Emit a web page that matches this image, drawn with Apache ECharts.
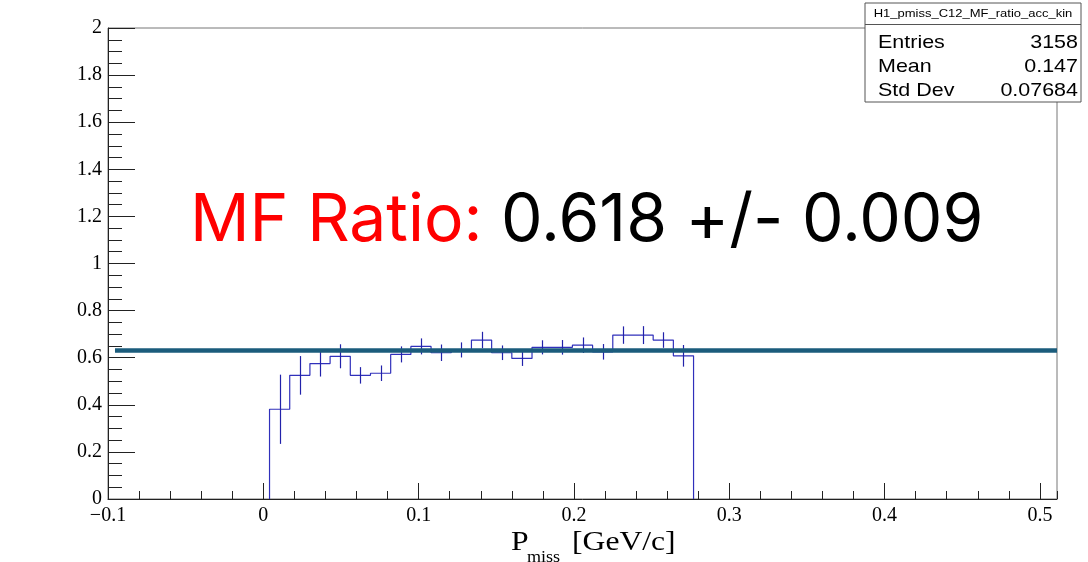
<!DOCTYPE html>
<html>
<head>
<meta charset="utf-8">
<script src="https://cdn.jsdelivr.net/npm/echarts@6/dist/echarts.min.js"></script>
<style>
html, body { margin: 0; padding: 0; background: #fff; }
#chart { width: 1088px; height: 562px; }
</style>
</head>
<body>
<div id="chart"></div>
<script>
// histogram: bins of 0.013 GeV/c, first filled bin starts at 0.004
const binLow = 0.004;
const binWidth = 0.013;
const ratioValues = [0.381, 0.525, 0.575, 0.606, 0.525, 0.534, 0.614, 0.648, 0.621, 0.633, 0.675,
  0.621, 0.597, 0.644, 0.644, 0.653, 0.625, 0.696, 0.696, 0.675, 0.608];
const ratioErrors = [0.147, 0.082, 0.055, 0.051, 0.035, 0.033, 0.034, 0.034, 0.035, 0.032, 0.035,
  0.031, 0.032, 0.030, 0.031, 0.033, 0.033, 0.037, 0.038, 0.033, 0.046];
// constant fit
const fitValue = 0.631;
const fitRange = [-0.0955, 0.511];
const xRange = [-0.1, 0.511];
const yRange = [0, 2];
const statNames = ["Entries", "Mean", "Std Dev"];
const statValues = ["3158", "0.147", "0.07684"];

const histPoints = [[binLow, 0]];
ratioValues.forEach((v, i) => histPoints.push([binLow + i * binWidth, v]));
const histEnd = binLow + ratioValues.length * binWidth;
histPoints.push([histEnd, ratioValues[ratioValues.length - 1]]);
histPoints.push([histEnd, 0]);

const errData = ratioValues.map((v, i) => [binLow + (i + 0.5) * binWidth, v - ratioErrors[i], v + ratioErrors[i]]);

const serif = "Liberation Serif";
const sans = "Liberation Sans";
const stretch = 1.13; // the picture is a bit wider than tall

let myChart = echarts.init(document.getElementById("chart"));

const statGraphics = [
  {
    type: "rect", shape: { x: 865, y: 3, width: 216, height: 99 },
    style: { fill: "#fff", stroke: "#555", lineWidth: 1 }, z: 10
  },
  {
    type: "line", shape: { x1: 865, y1: 24.5, x2: 1081, y2: 24.5 },
    style: { stroke: "#555", lineWidth: 1 }, z: 11
  },
  {
    type: "text", x: 973, y: 14, z: 11, scaleX: stretch,
    style: { text: "H1_pmiss_C12_MF_ratio_acc_kin", font: "11.5px " + sans, fill: "#000", align: "center", verticalAlign: "middle" }
  }
];
statNames.forEach((name, i) => {
  statGraphics.push({
    type: "text", x: 878, y: 43 + i * 24, z: 11, scaleX: stretch,
    style: { text: name, font: "19px " + sans, fill: "#000", verticalAlign: "middle" }
  });
  statGraphics.push({
    type: "text", x: 1078, y: 43 + i * 24, z: 11, scaleX: stretch,
    style: { text: statValues[i], font: "19px " + sans, fill: "#000", align: "right", verticalAlign: "middle" }
  });
});

myChart.setOption({
  animation: false,
  grid: {
    left: 108, right: 31, top: 28, bottom: 63,
    show: true, borderColor: "#777", borderWidth: 1
  },
  xAxis: [
    {
      type: "value", position: "bottom",
      min: xRange[0], max: xRange[1], interval: 0.1,
      axisLine: { onZero: false, lineStyle: { color: "#222", width: 1 } },
      axisTick: { inside: true, length: 16, lineStyle: { color: "#222" } },
      axisLabel: {
        showMaxLabel: false, margin: 7,
        fontFamily: serif, fontSize: 20, color: "#000",
        formatter: v => (v < 0 ? "\u2212" + String(-v) : String(v))
      },
      splitLine: { show: false }
    },
    {
      type: "value", position: "bottom",
      min: xRange[0], max: xRange[1], interval: 0.02,
      axisLine: { show: false, onZero: false },
      axisTick: { inside: true, length: 8, lineStyle: { color: "#222" } },
      axisLabel: { show: false },
      splitLine: { show: false }
    }
  ],
  yAxis: {
    type: "value",
    min: yRange[0], max: yRange[1], interval: 0.2,
    axisLine: { show: true, onZero: false, lineStyle: { color: "#222", width: 1 } },
    axisTick: { inside: true, length: 27, lineStyle: { color: "#222" } },
    minorTick: { show: true, splitNumber: 4, length: 14, lineStyle: { color: "#222" } },
    axisLabel: { margin: 6, fontFamily: serif, fontSize: 20, color: "#000" },
    splitLine: { show: false }
  },
  series: [
    {
      name: "ratio",
      type: "line",
      step: "end",
      data: histPoints,
      symbol: "none",
      lineStyle: { color: "#3030bb", width: 1.2 },
      z: 3
    },
    {
      name: "errors",
      type: "custom",
      data: errData,
      renderItem: (params, api) => {
        const p1 = api.coord([api.value(0), api.value(1)]);
        const p2 = api.coord([api.value(0), api.value(2)]);
        return {
          type: "line",
          shape: { x1: Math.round(p1[0]) + 0.5, y1: p1[1], x2: Math.round(p2[0]) + 0.5, y2: p2[1] },
          style: { stroke: "#2222aa", lineWidth: 1.2 }
        };
      },
      z: 4
    },
    {
      name: "fit",
      type: "line",
      data: [[fitRange[0], fitValue], [fitRange[1], fitValue]],
      symbol: "none",
      lineStyle: { color: "#1b5c7c", width: 4.5 },
      z: 5
    }
  ],
  graphic: [
    {
      type: "text", x: 190, y: 221, z: 20,
      style: {
        text: "{r|MF Ratio:} {k|0.618 +/- 0.009}",
        font: "66px Inter",
        verticalAlign: "middle",
        rich: {
          r: { fill: "#ff0000", font: "66px Inter" },
          k: { fill: "#000000", font: "66px Inter" }
        }
      }
    },
    {
      type: "text", x: 511, y: 542.5, z: 20, scaleX: stretch,
      style: { text: "P", font: "28px " + serif, fill: "#000", verticalAlign: "middle" }
    },
    {
      type: "text", x: 527, y: 557.5, z: 20, scaleX: stretch,
      style: { text: "miss", font: "16px " + serif, fill: "#000", verticalAlign: "middle" }
    },
    {
      type: "text", x: 572, y: 542.5, z: 20, scaleX: stretch,
      style: { text: "[GeV/c]", font: "28px " + serif, fill: "#000", verticalAlign: "middle" }
    }
  ].concat(statGraphics)
});
</script>
</body>
</html>
